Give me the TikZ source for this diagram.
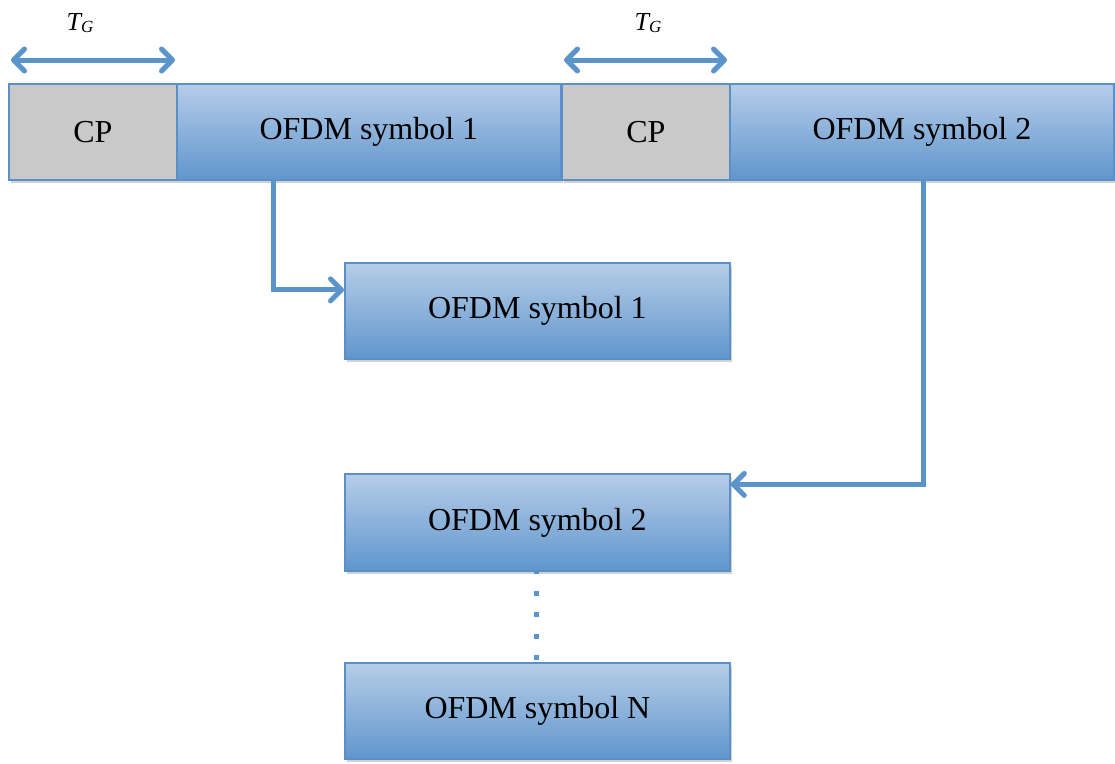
\documentclass[tikz,border=0pt]{standalone}
\usepackage{fontspec}
\setmainfont{Liberation Serif}
\usetikzlibrary{arrows.meta,calc,shadows}
\definecolor{edgeblue}{HTML}{5A8FC8}
\definecolor{topblue}{HTML}{B6CDE8}
\definecolor{botblue}{HTML}{6096CD}
\definecolor{arrblue}{HTML}{5B93CB}
\definecolor{cpgray}{HTML}{C9C9C9}
\newcommand{\tgsym}{{\fontsize{26}{30}\selectfont\itshape T}\raisebox{-0.22em}{\fontsize{17}{20}\selectfont\itshape G}}
\tikzset{
  blk/.style={draw=edgeblue, line width=1.8pt, inner sep=0pt, anchor=north west,
    font=\fontsize{32}{38}\selectfont,
    drop shadow={shadow xshift=2pt, shadow yshift=-3pt, opacity=0.18, fill=black}},
  symbox/.style={blk, top color=topblue, bottom color=botblue},
  cpbox/.style={blk, fill=cpgray},
  conn/.style={draw=arrblue, line width=5pt, line cap=round, line join=miter,
    -{Straight Barb[length=11pt,width=22pt,line cap=round,line join=round]}},
  dbl/.style={draw=arrblue, line width=5pt, line cap=round,
    {Straight Barb[length=11pt,width=22pt,line cap=round,line join=round]}-{Straight Barb[length=11pt,width=22pt,line cap=round,line join=round]}},
  lbl/.style={inner sep=0pt}
}
\begin{document}
\begin{tikzpicture}[x=1pt,y=-1pt]
\useasboundingbox (0,0) rectangle (1115,763);
% top row
\node[cpbox, minimum width=168, minimum height=96] (cp1) at (8,83) {CP};
\node[symbox, minimum width=384, minimum height=96] (sym1) at (176,83) {OFDM symbol 1};
\node[cpbox, minimum width=168, minimum height=96] (cp2) at (561,83) {CP};
\node[symbox, minimum width=384, minimum height=96] (sym2) at (729,83) {OFDM symbol 2};
% guard interval arrows
\coordinate (a1l) at (11,60); \coordinate (a1r) at (175,60);
\coordinate (a2l) at (564,60); \coordinate (a2r) at (727,60);
\draw[dbl] (a1l) -- (a1r);
\draw[dbl] (a2l) -- (a2r);
\node[lbl] (tg1) at (80,23) {\tgsym};
\node[lbl] (tg2) at (648,23) {\tgsym};
% lower boxes
\node[symbox, minimum width=385, minimum height=96] (b1) at (344,262) {OFDM symbol 1};
\node[symbox, minimum width=385, minimum height=97] (b2) at (344,473) {OFDM symbol 2};
\node[symbox, minimum width=385, minimum height=96] (bn) at (344,662) {OFDM symbol N};
% connectors
\draw[conn] ($(sym1.south west)+(97,0)$) |- ($(b1.west)+(0,-21)$);
\draw[conn] ($(sym2.south)+(2,0)$) |- ($(b2.east)+(0,-38)$);
\draw[draw=arrblue, line width=5pt, dash pattern=on 5pt off 16.5pt, dash phase=2.5pt]
  ($(b2.south)+(-0.5,0)$) -- ($(bn.north)+(-0.5,0)$);
\end{tikzpicture}
\end{document}
